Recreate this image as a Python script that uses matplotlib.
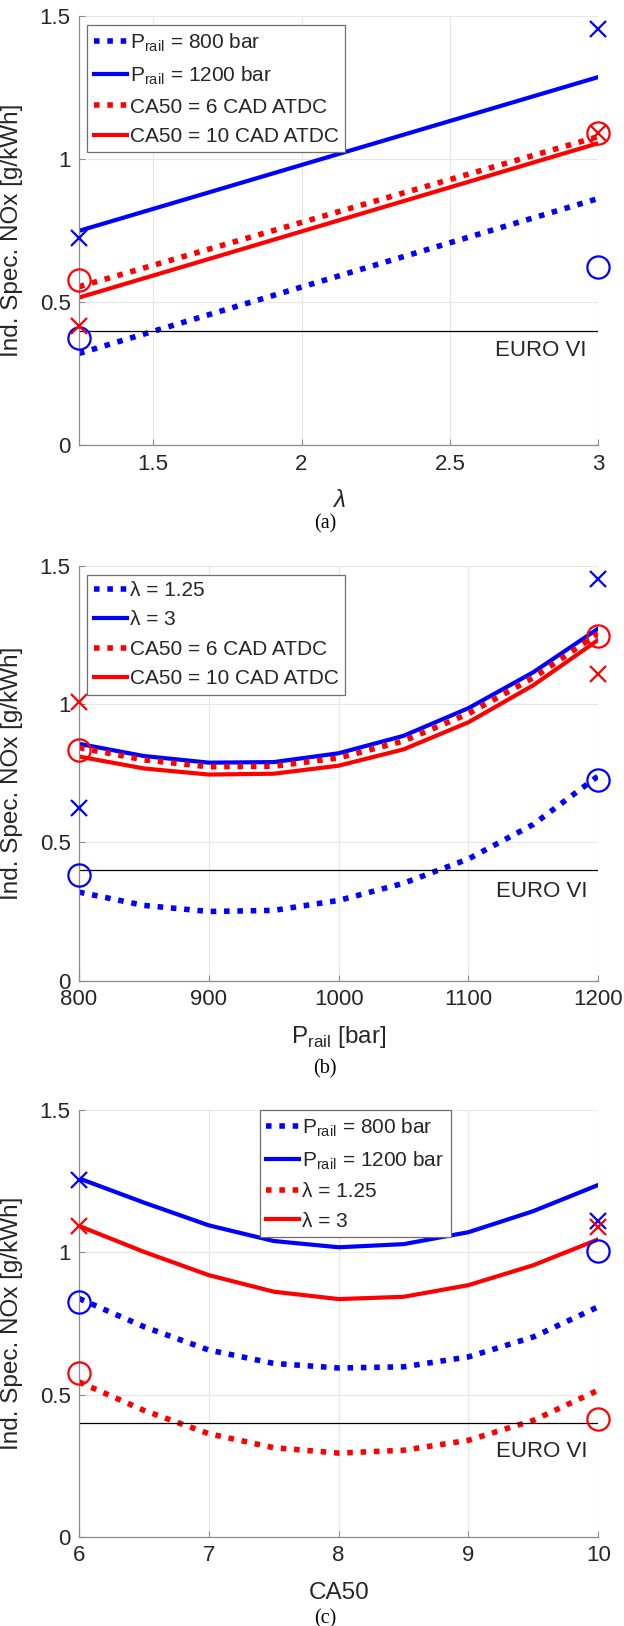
import matplotlib
matplotlib.use("Agg")
import matplotlib.pyplot as plt

plt.rcParams['font.family'] = ['Liberation Sans', 'DejaVu Sans']

BLUE = '#0000ff'
RED = '#ff0000'
DOT = (0, (1, 1.4))

# panel (a): NOx vs lambda
lam = [1.25, 3]
a_p800 = [0.321, 0.862]
a_p1200 = [0.749, 1.286]
a_ca6 = [0.554, 1.078]
a_ca10 = [0.516, 1.055]
a_bx = [0.723, 1.453]
a_bo = [0.376, 0.624]
a_rx = [0.416, 1.090]
a_ro = [0.579, 1.090]

# panel (b): NOx vs rail pressure
prail = [800, 850, 900, 950, 1000, 1050, 1100, 1150, 1200]
b_lam125 = [0.32, 0.272, 0.25, 0.254, 0.29, 0.352, 0.44, 0.565, 0.74]
b_lam3 = [0.856, 0.812, 0.788, 0.79, 0.822, 0.885, 0.985, 1.115, 1.273]
b_ca6 = [0.842, 0.798, 0.773, 0.775, 0.805, 0.866, 0.965, 1.095, 1.255]
b_ca10 = [0.81, 0.767, 0.745, 0.748, 0.777, 0.836, 0.934, 1.068, 1.232]
prail_pts = [800, 1200]
b_bx = [0.624, 1.453]
b_bo = [0.381, 0.724]
b_rx = [1.008, 1.108]
b_ro = [0.834, 1.247]

# panel (c): NOx vs CA50
ca50 = [6, 6.5, 7, 7.5, 8, 8.5, 9, 9.5, 10]
c_p800 = [0.838, 0.739, 0.657, 0.61, 0.594, 0.598, 0.633, 0.703, 0.809]
c_p1200 = [1.26, 1.175, 1.095, 1.04, 1.018, 1.029, 1.071, 1.145, 1.237]
c_lam125 = [0.545, 0.445, 0.363, 0.314, 0.295, 0.305, 0.34, 0.41, 0.516]
c_lam3 = [1.093, 1.002, 0.92, 0.862, 0.836, 0.844, 0.885, 0.955, 1.046]
ca50_pts = [6, 10]
c_bx = [1.254, 1.111]
c_bo = [0.826, 1.006]
c_rx = [1.093, 1.090]
c_ro = [0.577, 0.416]

euro6 = 0.4
yticks = [0, 0.5, 1, 1.5]
ytick_labels = ['0', '0.5', '1', '1.5']


def style(ax, xlim, xticks):
    ax.set_xlim(xlim)
    ax.set_ylim(0, 1.5)
    ax.set_xticks(xticks)
    ax.set_xticklabels([('%g' % t) for t in xticks])
    ax.set_yticks(yticks)
    ax.set_yticklabels(ytick_labels)
    ax.grid(True, color='#e6e6e6', lw=0.8)
    ax.set_axisbelow(True)
    for s in ['top', 'right']:
        ax.spines[s].set_visible(False)
    for s in ['left', 'bottom']:
        ax.spines[s].set_color('#8c8c8c')
        ax.spines[s].set_linewidth(0.9)
    ax.tick_params(direction='in', length=4, color='#8c8c8c', labelcolor='#262626',
                   labelsize=16, pad=6)
    ax.set_ylabel('Ind. Spec. NOx [g/kWh]', fontsize=17.5, color='#262626')
    ax.yaxis.set_label_coords(-0.108, 0.5)
    ax.axhline(euro6, color='k', lw=0.9, zorder=2)


def markers(ax, x, bx, bo, rx, ro):
    kw = dict(ls='none', mew=1.6, clip_on=False, zorder=5)
    ax.plot(x, bx, marker='x', ms=12, color=BLUE, **kw)
    ax.plot(x, bo, marker='o', ms=16, mfc='none', color=BLUE, **kw)
    ax.plot(x, rx, marker='x', ms=12, color=RED, **kw)
    ax.plot(x, ro, marker='o', ms=16, mfc='none', color=RED, **kw)


def legend(ax, anchor):
    leg = ax.legend(loc='upper left', bbox_to_anchor=anchor, borderaxespad=0,
                    fontsize=15, handlelength=1.6, handletextpad=0.15,
                    borderpad=0.3, labelspacing=0.5, fancybox=False,
                    framealpha=1, edgecolor='#6e6e6e')
    leg.get_frame().set_linewidth(0.9)
    for t in leg.get_texts():
        t.set_color('#262626')


fig = plt.figure(figsize=(6.24, 16.26), dpi=100)

# (a)
ax1 = fig.add_axes([0.1266, 0.7261, 0.8322, 0.2642])
ax1.plot(lam, a_p800, color=BLUE, lw=4, ls=DOT, label=r'P$_{\mathregular{rail}}$ = 800 bar')
ax1.plot(lam, a_p1200, color=BLUE, lw=3, label=r'P$_{\mathregular{rail}}$ = 1200 bar')
ax1.plot(lam, a_ca6, color=RED, lw=4, ls=DOT, label='CA50 = 6 CAD ATDC')
ax1.plot(lam, a_ca10, color=RED, lw=3, label='CA50 = 10 CAD ATDC')
markers(ax1, lam, a_bx, a_bo, a_rx, a_ro)
style(ax1, (1.25, 3), [1.5, 2, 2.5, 3])
ax1.text(2.96, 0.33, 'EURO VI', fontsize=16, ha='right', va='center', color='#262626')
ax1.set_xlabel('λ', fontsize=17.5, fontstyle='italic', color='#262626')
ax1.xaxis.set_label_coords(0.5, -0.128)
ax1.xaxis.label.set_va('center')
legend(ax1, (0.016, 0.978))

# (b)
ax2 = fig.add_axes([0.1266, 0.3969, 0.8322, 0.2552])
ax2.plot(prail, b_lam125, color=BLUE, lw=4, ls=DOT, label='λ = 1.25')
ax2.plot(prail, b_lam3, color=BLUE, lw=3, label='λ = 3')
ax2.plot(prail, b_ca6, color=RED, lw=4, ls=DOT, label='CA50 = 6 CAD ATDC')
ax2.plot(prail, b_ca10, color=RED, lw=3, label='CA50 = 10 CAD ATDC')
markers(ax2, prail_pts, b_bx, b_bo, b_rx, b_ro)
style(ax2, (800, 1200), [800, 900, 1000, 1100, 1200])
ax2.text(1192, 0.324, 'EURO VI', fontsize=16, ha='right', va='center', color='#262626')
ax2.set_xlabel(r'P$_{\mathregular{rail}}$ [bar]', fontsize=17.5, color='#262626')
ax2.xaxis.set_label_coords(0.5, -0.135)
ax2.xaxis.label.set_va('center')
legend(ax2, (0.016, 0.978))

# (c)
ax3 = fig.add_axes([0.1266, 0.0547, 0.8322, 0.2626])
ax3.plot(ca50, c_p800, color=BLUE, lw=4, ls=DOT, label=r'P$_{\mathregular{rail}}$ = 800 bar')
ax3.plot(ca50, c_p1200, color=BLUE, lw=3, label=r'P$_{\mathregular{rail}}$ = 1200 bar')
ax3.plot(ca50, c_lam125, color=RED, lw=4, ls=DOT, label='λ = 1.25')
ax3.plot(ca50, c_lam3, color=RED, lw=3, label='λ = 3')
markers(ax3, ca50_pts, c_bx, c_bo, c_rx, c_ro)
style(ax3, (6, 10), [6, 7, 8, 9, 10])
ax3.text(9.92, 0.30, 'EURO VI', fontsize=16, ha='right', va='center', color='#262626')
ax3.set_xlabel('CA50', fontsize=17.5, color='#262626')
ax3.xaxis.set_label_coords(0.5, -0.131)
ax3.xaxis.label.set_va('center')
legend(ax3, (0.348, 1.0))

# captions
for y, s in [(0.6777, '(a)'), (0.3426, '(b)'), (0.0045, '(c)')]:
    fig.text(0.521, y, s, fontsize=14.5, family='Liberation Serif', ha='center', va='center')

fig.savefig('out.png', dpi=100)
